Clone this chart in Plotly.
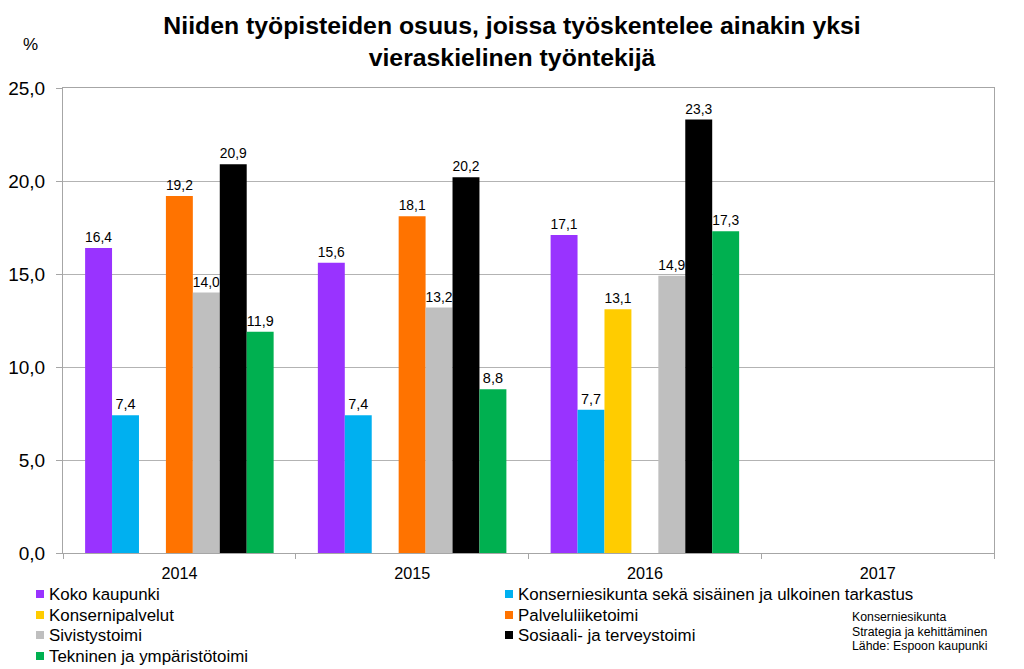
import plotly.graph_objects as go

years = ["2014", "2015", "2016", "2017"]
series_names = [
    "Koko kaupunki",
    "Konserniesikunta sekä sisäinen ja ulkoinen tarkastus",
    "Konsernipalvelut",
    "Palveluliiketoimi",
    "Sivistystoimi",
    "Sosiaali- ja terveystoimi",
    "Tekninen ja ympäristötoimi",
]
koko_kaupunki = [16.4, 15.6, 17.1, None]
konserniesikunta = [7.4, 7.4, 7.7, None]
konsernipalvelut = [None, None, 13.1, None]
palveluliiketoimi = [19.2, 18.1, None, None]
sivistystoimi = [14.0, 13.2, 14.9, None]
sosiaali_terveys = [20.9, 20.2, 23.3, None]
tekninen = [11.9, 8.8, 17.3, None]
values = [koko_kaupunki, konserniesikunta, konsernipalvelut, palveluliiketoimi,
          sivistystoimi, sosiaali_terveys, tekninen]
colors = ["#9933FF", "#00B0F0", "#FFCC00", "#FF7300", "#BFBFBF", "#000000", "#00B050"]
source_lines = ["Konserniesikunta", "Strategia ja kehittäminen", "Lähde: Espoon kaupunki"]

FONT = "Liberation Sans, Arial, sans-serif"
OFF = 8  # the page body has an 8px margin; the figure is shifted by it
W, H = 1024 - OFF, 669 - OFF
# plot area in screen pixels: x 63..994, y 88..553
ML, MT = 63 - OFF, 88 - OFF
MR = W - (994 - OFF)
MB = H - (553 - OFF)
PW, PH = W - ML - MR, H - MT - MB


def px_x(sx):
    return (sx - OFF - ML) / PW


def px_y(sy):
    return (H - MB - (sy - OFF)) / PH


fig = go.Figure()
for name, vals, col in zip(series_names, values, colors):
    fig.add_trace(go.Bar(
        x=years, y=vals, name=name,
        marker=dict(color=col, line=dict(width=0)),
        texttemplate="%{y:.1f}", textposition="outside",
        textfont=dict(family=FONT, size=14.5, color="#000000"),
        cliponaxis=False, showlegend=False,
    ))

# Legend drawn as squares + text, two columns, filled row by row
shapes = []
annotations = []
col_x = [36, 505]      # left edge of square (screen px)
row_y = [594, 615, 635, 656]  # row centres (screen px)
sq = 8
for i, (name, col) in enumerate(zip(series_names, colors)):
    cx = col_x[i % 2]
    cy = row_y[i // 2]
    shapes.append(dict(
        type="rect", xref="paper", yref="paper",
        x0=px_x(cx), x1=px_x(cx + sq), y0=px_y(cy + sq / 2), y1=px_y(cy - sq / 2),
        fillcolor=col, line=dict(width=0),
    ))
    annotations.append(dict(
        text=name, xref="paper", yref="paper",
        x=px_x(cx + sq + 3), y=px_y(cy), xanchor="left", yanchor="middle",
        showarrow=False, font=dict(family=FONT, size=16.9, color="#000000"),
    ))

annotations.append(dict(
    text="%", xref="paper", yref="paper", x=px_x(30), y=px_y(45),
    xanchor="center", yanchor="middle", showarrow=False,
    font=dict(family=FONT, size=17, color="#000000"),
))
for j, line in enumerate(source_lines):
    annotations.append(dict(
        text=line, xref="paper", yref="paper", x=px_x(850), y=px_y(617 + j * 14.5),
        xanchor="left", yanchor="middle", showarrow=False,
        font=dict(family=FONT, size=12.3, color="#000000"),
    ))

fig.update_layout(
    width=W, height=H,
    separators=", ",
    barmode="group", bargap=0.19, bargroupgap=0,
    plot_bgcolor="#FFFFFF", paper_bgcolor="#FFFFFF",
    margin=dict(l=ML, r=MR, t=MT, b=MB, autoexpand=False),
    font=dict(family=FONT, color="#000000"),
    title=dict(
        text="<b>Niiden työpisteiden osuus, joissa työskentelee ainakin yksi<br>vieraskielinen työntekijä</b>",
        font=dict(family=FONT, size=24.8, color="#000000"),
        x=px_x(512), xref="paper", xanchor="center",
        y=1 - 26 / H, yref="container", yanchor="top",
    ),
    showlegend=False,
    xaxis=dict(
        type="category", showgrid=False,
        showline=True, linecolor="#A6A6A6", linewidth=1, mirror=True,
        ticks="outside", ticklen=5, tickcolor="#A6A6A6", tickson="boundaries",
        ticklabelstandoff=6,
        tickfont=dict(family=FONT, size=16.2, color="#000000"),
    ),
    yaxis=dict(
        range=[0, 25], dtick=5, tickformat=".1f",
        showgrid=True, gridcolor="#B3B3B3", gridwidth=1,
        showline=True, linecolor="#A6A6A6", linewidth=1, mirror=True,
        ticks="outside", ticklen=6, tickcolor="#A6A6A6",
        ticklabelstandoff=7,
        tickfont=dict(family=FONT, size=19, color="#000000"),
        zeroline=False,
    ),
    shapes=shapes,
    annotations=annotations,
)

fig.write_html("out.html")
